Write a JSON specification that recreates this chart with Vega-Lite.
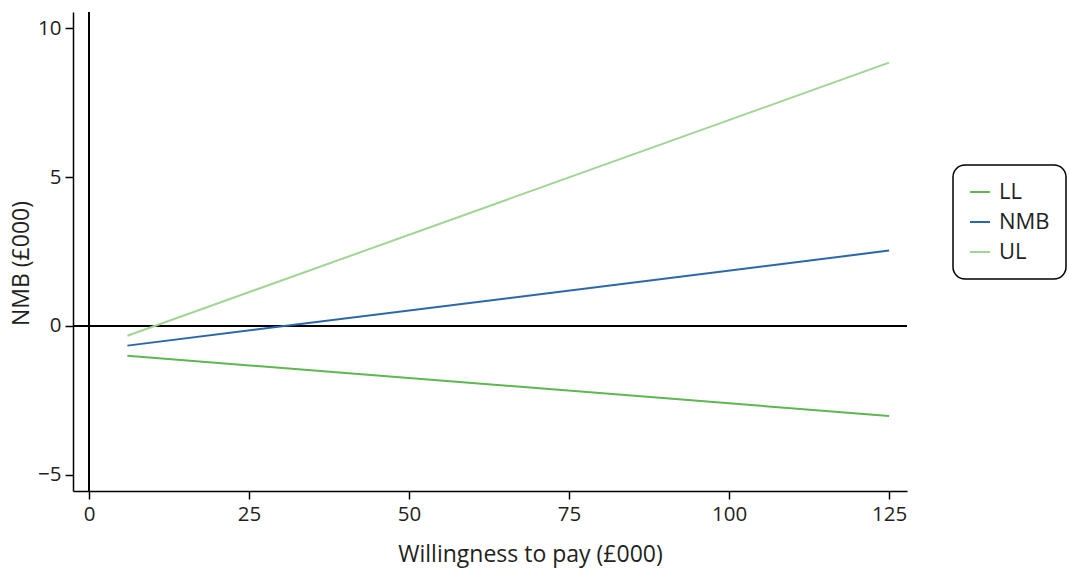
{
  "$schema": "https://vega.github.io/schema/vega-lite/v6.json",
  "width": 834,
  "height": 479,
  "autosize": {"type": "none"},
  "padding": {"left": 73, "top": 12, "right": 162, "bottom": 83},
  "background": "white",
  "config": {
    "view": {"stroke": null},
    "font": "Open Sans",
    "axis": {
      "grid": false,
      "domainColor": "black",
      "domainWidth": 1.5,
      "tickColor": "black",
      "tickWidth": 1.5,
      "tickSize": 8,
      "labelFont": "Open Sans",
      "labelFontSize": 20.5,
      "labelColor": "#231f20",
      "titleFont": "Open Sans",
      "titleFontSize": 23,
      "titleFontWeight": "normal",
      "titleColor": "#231f20"
    }
  },
  "data": {
    "values": [
      {"wtp": 6, "nmb": -1.0, "series": "LL"},
      {"wtp": 125, "nmb": -3.02, "series": "LL"},
      {"wtp": 6, "nmb": -0.66, "series": "NMB"},
      {"wtp": 125, "nmb": 2.53, "series": "NMB"},
      {"wtp": 6, "nmb": -0.33, "series": "UL"},
      {"wtp": 125, "nmb": 8.84, "series": "UL"}
    ]
  },
  "layer": [
    {
      "mark": {"type": "rule", "color": "black", "strokeWidth": 2},
      "encoding": {"y": {"datum": 0}}
    },
    {
      "mark": {"type": "rule", "color": "black", "strokeWidth": 2},
      "encoding": {"x": {"datum": 0}}
    },
    {
      "mark": {"type": "line", "strokeWidth": 2},
      "encoding": {
        "x": {
          "field": "wtp",
          "type": "quantitative",
          "scale": {"domain": [-2.5, 127.8], "nice": false, "zero": false},
          "axis": {
            "values": [0, 25, 50, 75, 100, 125],
            "title": "Willingness to pay (£000)",
            "labelPadding": 5,
            "titleX": 457,
            "titleY": 70,
            "titleAlign": "center",
            "titleBaseline": "alphabetic"
          }
        },
        "y": {
          "field": "nmb",
          "type": "quantitative",
          "scale": {"domain": [-5.54, 10.54], "nice": false, "zero": false},
          "axis": {
            "values": [-5, 0, 5, 10],
            "format": "d",
            "title": "NMB (£000)",
            "labelPadding": 4,
            "titleX": -52,
            "titleY": 251,
            "titleAlign": "center",
            "titleBaseline": "middle"
          }
        },
        "color": {
          "field": "series",
          "type": "nominal",
          "scale": {"domain": ["LL", "NMB", "UL"], "range": ["#5CB84F", "#2A66AE", "#A0D593"]},
          "legend": {
            "title": null,
            "orient": "none",
            "legendX": 880,
            "legendY": 153,
            "padding": 16,
            "cornerRadius": 12,
            "strokeColor": "black",
            "fillColor": "white",
            "symbolType": "stroke",
            "symbolSize": 400,
            "symbolStrokeWidth": 2,
            "labelFont": "Open Sans",
            "labelFontSize": 22,
            "labelColor": "#231f20",
            "rowPadding": 8,
            "labelOffset": 8,
            "encode": {"legend": {"update": {"strokeWidth": {"value": 1.5}}}}
          }
        }
      }
    }
  ]
}
